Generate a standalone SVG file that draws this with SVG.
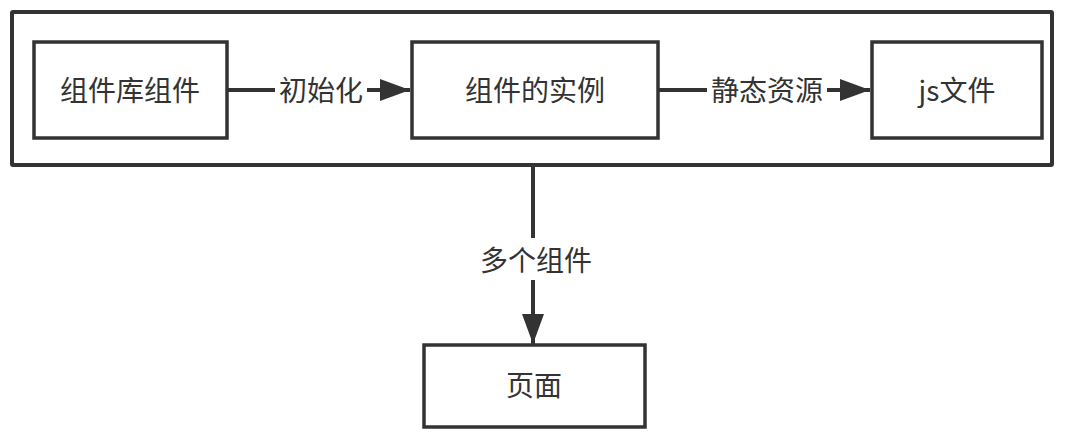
<svg xmlns="http://www.w3.org/2000/svg" width="1066" height="440" viewBox="0 0 1066 440">
<style>
.box{fill:#fff;stroke:#333;stroke-width:3.5}
.outer{fill:#fff;stroke:#333;stroke-width:4}
.t{font-family:"Noto Sans CJK SC","Noto Sans",sans-serif;font-size:28px;fill:#333;text-anchor:middle;dominant-baseline:central}
.line{stroke:#333;stroke-width:4;fill:none}
.lbg{fill:#fff}
</style>
<defs>
<marker id="ah" markerUnits="userSpaceOnUse" markerWidth="32" markerHeight="22" refX="30" refY="11" orient="auto">
<path d="M0,0 L30,11 L0,22 Z" fill="#333"/>
</marker>
</defs>
<rect width="1066" height="440" fill="#fff"/>
<g id="container">
<rect class="outer" x="12" y="12" width="1040" height="153" rx="1"/>
</g>
<g id="connectors">
<line class="line" x1="227" y1="90" x2="410" y2="90" marker-end="url(#ah)"/>
<rect class="lbg" x="275" y="72" width="92" height="36"/>
<text class="t" x="321" y="89">初始化</text>
<line class="line" x1="658" y1="90" x2="870" y2="90" marker-end="url(#ah)"/>
<rect class="lbg" x="707" y="72" width="120" height="36"/>
<text class="t" x="767" y="89">静态资源</text>
<line class="line" x1="533" y1="165" x2="533" y2="344" marker-end="url(#ah)"/>
<rect class="lbg" x="475" y="238" width="120" height="42"/>
<text class="t" x="536" y="259">多个组件</text>
</g>
<g id="node-lib">
<rect class="box" x="34" y="42" width="193" height="96"/>
<text class="t" x="130" y="89">组件库组件</text>
</g>
<g id="node-instance">
<rect class="box" x="412" y="42" width="246" height="96"/>
<text class="t" x="535" y="89">组件的实例</text>
</g>
<g id="node-js">
<rect class="box" x="872" y="42" width="170" height="96"/>
<text class="t" x="957" y="89">js文件</text>
</g>
<g id="node-page">
<rect class="box" x="424" y="345" width="221" height="82"/>
<text class="t" x="534" y="384">页面</text>
</g>
</svg>
